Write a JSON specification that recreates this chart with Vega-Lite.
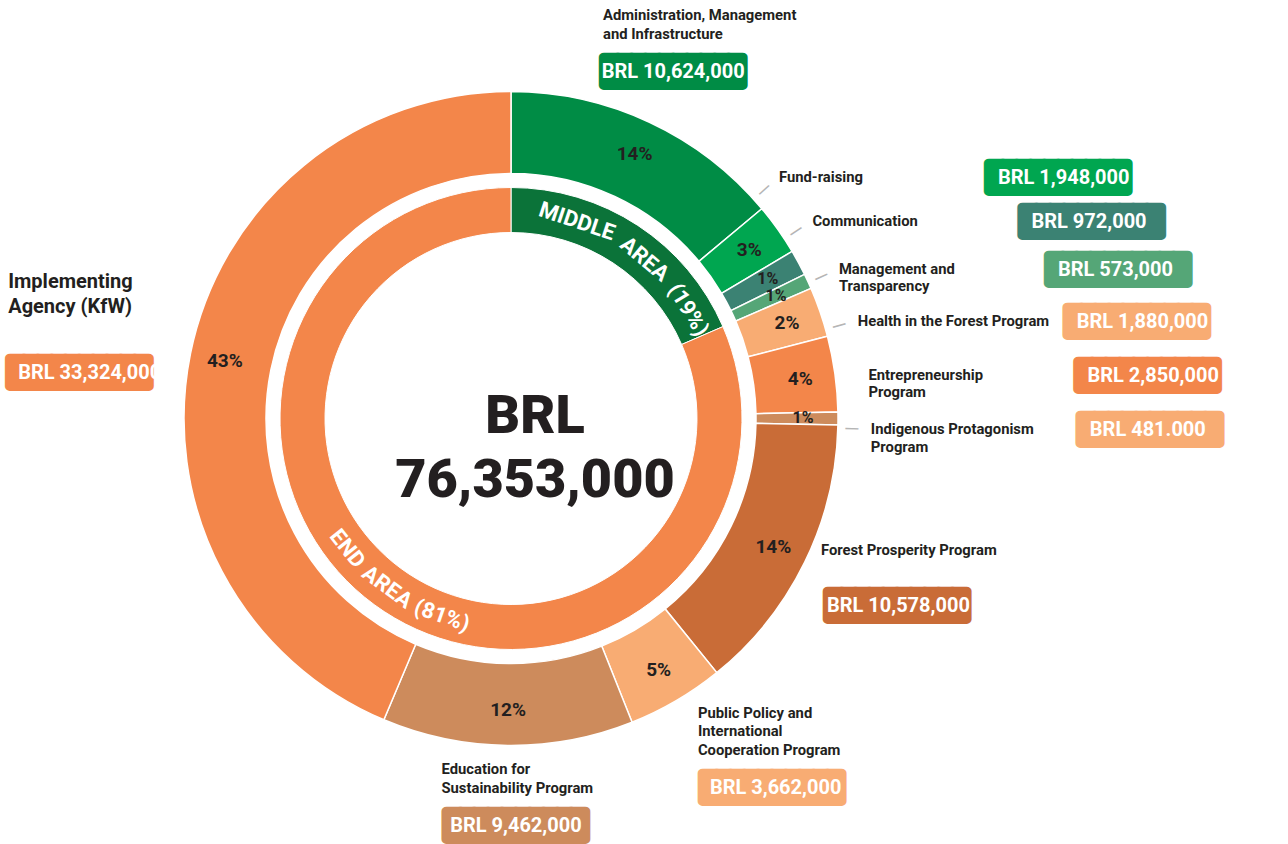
{
  "$schema": "https://vega.github.io/schema/vega-lite/v6.json",
  "width": 1022,
  "height": 837,
  "autosize": {"type": "none"},
  "padding": {"left": 0, "top": 0, "right": 266, "bottom": 7},
  "background": "#ffffff",
  "config": {"view": {"stroke": null}, "font": "Roboto"},
  "datasets": {
    "programs": [
      {"i": 1, "name": "Administration, Management and Infrastructure", "label": "Administration, Management\nand Infrastructure", "value": 10624000, "pct": "14%", "brl": "BRL 10,624,000"},
      {"i": 2, "name": "Fund-raising", "label": "Fund-raising", "value": 1948000, "pct": "3%", "brl": "BRL 1,948,000"},
      {"i": 3, "name": "Communication", "label": "Communication", "value": 972000, "pct": "1%", "brl": "BRL 972,000"},
      {"i": 4, "name": "Management and Transparency", "label": "Management and\nTransparency", "value": 573000, "pct": "1%", "brl": "BRL 573,000"},
      {"i": 5, "name": "Health in the Forest Program", "label": "Health in the Forest Program", "value": 1880000, "pct": "2%", "brl": "BRL 1,880,000"},
      {"i": 6, "name": "Entrepreneurship Program", "label": "Entrepreneurship\nProgram", "value": 2850000, "pct": "4%", "brl": "BRL 2,850,000"},
      {"i": 7, "name": "Indigenous Protagonism Program", "label": "Indigenous Protagonism\nProgram", "value": 481000, "pct": "1%", "brl": "BRL 481.000"},
      {"i": 8, "name": "Forest Prosperity Program", "label": "Forest Prosperity Program", "value": 10578000, "pct": "14%", "brl": "BRL 10,578,000"},
      {"i": 9, "name": "Public Policy and International Cooperation Program", "label": "Public Policy and\nInternational\nCooperation Program", "value": 3662000, "pct": "5%", "brl": "BRL  3,662,000"},
      {"i": 10, "name": "Education for Sustainability Program", "label": "Education for\nSustainability Program", "value": 9462000, "pct": "12%", "brl": "BRL 9,462,000"},
      {"i": 11, "name": "Implementing Agency (KfW)", "label": "Implementing\nAgency (KfW)", "value": 33324000, "pct": "43%", "brl": "BRL 33,324,000"}
    ],
    "areas": [
      {"j": 1, "area": "Middle Area", "value": 14117000},
      {"j": 2, "area": "End Area", "value": 62236000}
    ],
    "middleWords": [
      {"k": 0, "word": "MIDDLE"},
      {"k": 1, "word": "AREA"},
      {"k": 2, "word": "(19%)"}
    ],
    "endWords": [
      {"k": 0, "word": "END"},
      {"k": 1, "word": "AREA"},
      {"k": 2, "word": "(81%)"}
    ],
    "total": [{"label": "BRL\n76,353,000"}]
  },
  "layer": [
    {
      "data": {"name": "programs"},
      "mark": {"type": "arc", "outerRadius": 327, "innerRadius": 245, "stroke": "#ffffff", "strokeWidth": 1.5},
      "encoding": {
        "theta": {"field": "value", "type": "quantitative", "stack": true},
        "order": {"field": "i", "type": "quantitative"},
        "color": {"field": "i", "type": "nominal", "legend": null,
          "scale": {"domain": [1,2,3,4,5,6,7,8,9,10,11],
            "range": ["#008C45","#00A650","#3B8273","#55A677","#F8AC73","#F3864A","#CD8B5C","#C96C37","#F8AC73","#CD8B5C","#F3864A"]}}
      }
    },
    {
      "data": {"name": "areas"},
      "mark": {"type": "arc", "outerRadius": 231, "innerRadius": 186, "stroke": "#ffffff", "strokeWidth": 1},
      "encoding": {
        "theta": {"field": "value", "type": "quantitative", "stack": true},
        "order": {"field": "j", "type": "quantitative"},
        "color": {"field": "area", "type": "nominal", "legend": null,
          "scale": {"domain": ["Middle Area", "End Area"], "range": ["#0B7339", "#F3864A"]}}
      }
    },
    {
      "data": {"name": "programs"},
      "mark": {"type": "text", "radius": 292, "font": "Roboto", "fontWeight": "bold", "fill": "#231F20", "align": "center", "baseline": "middle"},
      "encoding": {
        "theta": {"field": "value", "type": "quantitative", "stack": true},
        "order": {"field": "i", "type": "quantitative"},
        "size": {"condition": {"test": "datum.value < 1000000", "value": 16}, "value": 19},
        "text": {"field": "pct", "type": "nominal"}
      }
    },
    {
      "data": {"name": "middleWords"},
      "mark": {"type": "text", "radius": 208, "font": "Roboto", "fontSize": 22, "fontWeight": "bold", "fill": "#ffffff", "align": "center", "baseline": "middle"},
      "encoding": {
        "theta": {"field": "k", "type": "quantitative", "stack": null, "scale": {"domain": [0, 1, 2], "range": [0.3229, 0.6981, 1.0210]}},
        "angle": {"field": "k", "type": "quantitative", "scale": {"domain": [0, 1, 2], "range": [18.5, 40, 58.5]}},
        "text": {"field": "word", "type": "nominal"}
      }
    },
    {
      "data": {"name": "endWords"},
      "mark": {"type": "text", "radius": 209, "font": "Roboto", "fontSize": 22, "fontWeight": "bold", "fill": "#ffffff", "align": "center", "baseline": "middle"},
      "encoding": {
        "theta": {"field": "k", "type": "quantitative", "stack": null, "scale": {"domain": [0, 1, 2], "range": [4.0404, 3.7751, 3.4784]}},
        "angle": {"field": "k", "type": "quantitative", "scale": {"domain": [0, 1, 2], "range": [51.5, 36.3, 19.3]}},
        "text": {"field": "word", "type": "nominal"}
      }
    },
    {
      "data": {"name": "total"},
      "mark": {"type": "text", "font": "Roboto", "fontSize": 54, "fontWeight": 900, "fill": "#231F20", "align": "center", "baseline": "alphabetic", "lineBreak": "\n", "lineHeight": 64, "dx": 24, "dy": 14},
      "encoding": {"text": {"field": "label", "type": "nominal"}}
    },
    {
      "data": {"name": "programs"},
      "transform": [{"filter": {"field": "i", "oneOf": [2, 3, 4, 5, 7]}}],
      "mark": {"type": "text", "radius": 341, "font": "Roboto", "fontSize": 20, "fill": "#b5b5b5", "align": "center", "baseline": "middle"},
      "encoding": {
        "theta": {"field": "i", "type": "quantitative", "stack": null, "scale": {"domain": [2, 7], "range": [0.8395, 1.6040]}},
        "angle": {"field": "i", "type": "quantitative", "scale": {"domain": [2, 7], "range": [-41.9, 1.9]}},
        "text": {"value": "—"}
      }
    },
    {
      "data": {"name": "programs"},
      "transform": [{"filter": {"field": "i", "oneOf": [2, 3, 4, 5, 6, 7]}}],
      "mark": {"type": "text", "radius": 360, "font": "Roboto", "fontSize": 14.8, "fontWeight": "bold", "fill": "#231F20", "align": "left", "baseline": "middle", "lineBreak": "\n", "lineHeight": 17.5},
      "encoding": {
        "theta": {"field": "i", "type": "quantitative", "stack": null, "scale": {"domain": [2, 7], "range": [0.8395, 1.6040]}},
        "text": {"field": "label", "type": "nominal"}
      }
    },
    {
      "data": {"name": "programs"},
      "transform": [{"filter": {"field": "i", "oneOf": [2, 3, 4, 5, 6, 7]}}],
      "mark": {"type": "text", "radius": 360, "dx": 210, "font": "DejaVu Sans Mono", "fontSize": 23, "align": "left", "baseline": "middle", "strokeWidth": 10, "strokeJoin": "round"},
      "encoding": {
        "theta": {"field": "i", "type": "quantitative", "stack": null, "scale": {"domain": [2, 7], "range": [0.8395, 1.6040]}},
        "text": {"value": "██████████"},
        "fill": {"field": "i", "type": "nominal", "legend": null,
          "scale": {"domain": [1,2,3,4,5,6,7,8,9,10,11],
            "range": ["#008C45","#00A650","#3B8273","#55A677","#F8AC73","#F3864A","#F8AC73","#C96C37","#F8AC73","#CD8B5C","#F3864A"]}},
        "stroke": {"field": "i", "type": "nominal", "legend": null,
          "scale": {"domain": [1,2,3,4,5,6,7,8,9,10,11],
            "range": ["#008C45","#00A650","#3B8273","#55A677","#F8AC73","#F3864A","#F8AC73","#C96C37","#F8AC73","#CD8B5C","#F3864A"]}}
      }
    },
    {
      "data": {"name": "programs"},
      "transform": [{"filter": {"field": "i", "oneOf": [2, 3, 4, 5, 6, 7]}}],
      "mark": {"type": "text", "radius": 360, "dx": 219, "font": "Roboto", "fontSize": 20, "fontWeight": "bold", "fill": "#ffffff", "align": "left", "baseline": "middle"},
      "encoding": {
        "theta": {"field": "i", "type": "quantitative", "stack": null, "scale": {"domain": [2, 7], "range": [0.8395, 1.6040]}},
        "text": {"field": "brl", "type": "nominal"}
      }
    },
    {
      "data": {"name": "programs"},
      "mark": {"type": "text", "radius": 345, "dy": -19, "font": "Roboto", "fontSize": 14.8, "fontWeight": "bold", "fill": "#231F20", "align": "left", "baseline": "middle"},
      "encoding": {
        "theta": {"field": "value", "type": "quantitative", "stack": true},
        "order": {"field": "i", "type": "quantitative"},
        "text": {"condition": {"test": "datum.i == 8", "field": "label", "type": "nominal"}, "value": ""}
      }
    },
    {
      "data": {"name": "programs"},
      "mark": {"type": "text", "radius": 342, "dx": 14, "font": "Roboto", "fontSize": 14.8, "fontWeight": "bold", "fill": "#231F20", "align": "left", "baseline": "middle", "lineBreak": "\n", "lineHeight": 18.5},
      "encoding": {
        "theta": {"field": "value", "type": "quantitative", "stack": true},
        "order": {"field": "i", "type": "quantitative"},
        "text": {"condition": {"test": "datum.i == 9", "field": "label", "type": "nominal"}, "value": ""}
      }
    },
    {
      "data": {"name": "programs"},
      "mark": {"type": "text", "radius": 345, "dx": 7, "dy": 36, "font": "DejaVu Sans Mono", "fontSize": 23, "align": "left", "baseline": "middle", "strokeWidth": 10, "strokeJoin": "round"},
      "encoding": {
        "theta": {"field": "value", "type": "quantitative", "stack": true},
        "order": {"field": "i", "type": "quantitative"},
        "text": {"condition": {"test": "datum.i == 8", "value": "██████████"}, "value": ""},
        "fill": {"field": "i", "type": "nominal", "legend": null,
          "scale": {"domain": [1,2,3,4,5,6,7,8,9,10,11],
            "range": ["#008C45","#00A650","#3B8273","#55A677","#F8AC73","#F3864A","#F8AC73","#C96C37","#F8AC73","#CD8B5C","#F3864A"]}},
        "stroke": {"field": "i", "type": "nominal", "legend": null,
          "scale": {"domain": [1,2,3,4,5,6,7,8,9,10,11],
            "range": ["#008C45","#00A650","#3B8273","#55A677","#F8AC73","#F3864A","#F8AC73","#C96C37","#F8AC73","#CD8B5C","#F3864A"]}}
      }
    },
    {
      "data": {"name": "programs"},
      "mark": {"type": "text", "radius": 345, "dx": 6, "dy": 36, "font": "Roboto", "fontSize": 20, "fontWeight": "bold", "fill": "#ffffff", "align": "left", "baseline": "middle"},
      "encoding": {
        "theta": {"field": "value", "type": "quantitative", "stack": true},
        "order": {"field": "i", "type": "quantitative"},
        "text": {"condition": {"test": "datum.i == 8", "field": "brl", "type": "nominal"}, "value": ""}
      }
    },
    {
      "data": {"name": "programs"},
      "mark": {"type": "text", "radius": 342, "dx": 19, "dy": 74, "font": "DejaVu Sans Mono", "fontSize": 23, "align": "left", "baseline": "middle", "strokeWidth": 10, "strokeJoin": "round"},
      "encoding": {
        "theta": {"field": "value", "type": "quantitative", "stack": true},
        "order": {"field": "i", "type": "quantitative"},
        "text": {"condition": {"test": "datum.i == 9", "value": "██████████"}, "value": ""},
        "fill": {"field": "i", "type": "nominal", "legend": null,
          "scale": {"domain": [1,2,3,4,5,6,7,8,9,10,11],
            "range": ["#008C45","#00A650","#3B8273","#55A677","#F8AC73","#F3864A","#F8AC73","#C96C37","#F8AC73","#CD8B5C","#F3864A"]}},
        "stroke": {"field": "i", "type": "nominal", "legend": null,
          "scale": {"domain": [1,2,3,4,5,6,7,8,9,10,11],
            "range": ["#008C45","#00A650","#3B8273","#55A677","#F8AC73","#F3864A","#F8AC73","#C96C37","#F8AC73","#CD8B5C","#F3864A"]}}
      }
    },
    {
      "data": {"name": "programs"},
      "mark": {"type": "text", "radius": 342, "dx": 26, "dy": 74, "font": "Roboto", "fontSize": 20, "fontWeight": "bold", "fill": "#ffffff", "align": "left", "baseline": "middle"},
      "encoding": {
        "theta": {"field": "value", "type": "quantitative", "stack": true},
        "order": {"field": "i", "type": "quantitative"},
        "text": {"condition": {"test": "datum.i == 9", "field": "brl", "type": "nominal"}, "value": ""}
      }
    },
    {
      "data": {"name": "programs"},
      "mark": {"type": "text", "radius": 444, "dx": -96, "font": "Roboto", "fontSize": 14.8, "fontWeight": "bold", "fill": "#231F20", "align": "left", "baseline": "middle", "lineBreak": "\n", "lineHeight": 19},
      "encoding": {
        "theta": {"field": "value", "type": "quantitative", "stack": true},
        "order": {"field": "i", "type": "quantitative"},
        "text": {"condition": {"test": "datum.i == 1", "field": "label", "type": "nominal"}, "value": ""}
      }
    },
    {
      "data": {"name": "programs"},
      "mark": {"type": "text", "radius": 352, "dx": -66, "font": "Roboto", "fontSize": 14.8, "fontWeight": "bold", "fill": "#231F20", "align": "left", "baseline": "middle", "lineBreak": "\n", "lineHeight": 19},
      "encoding": {
        "theta": {"field": "value", "type": "quantitative", "stack": true},
        "order": {"field": "i", "type": "quantitative"},
        "text": {"condition": {"test": "datum.i == 10", "field": "label", "type": "nominal"}, "value": ""}
      }
    },
    {
      "data": {"name": "programs"},
      "mark": {"type": "text", "radius": 383, "font": "DejaVu Sans Mono", "fontSize": 23, "align": "center", "baseline": "middle", "strokeWidth": 10, "strokeJoin": "round"},
      "encoding": {
        "theta": {"field": "value", "type": "quantitative", "stack": true},
        "order": {"field": "i", "type": "quantitative"},
        "text": {"condition": {"test": "datum.i == 1", "value": "██████████"}, "value": ""},
        "fill": {"field": "i", "type": "nominal", "legend": null,
          "scale": {"domain": [1,2,3,4,5,6,7,8,9,10,11],
            "range": ["#008C45","#00A650","#3B8273","#55A677","#F8AC73","#F3864A","#F8AC73","#C96C37","#F8AC73","#CD8B5C","#F3864A"]}},
        "stroke": {"field": "i", "type": "nominal", "legend": null,
          "scale": {"domain": [1,2,3,4,5,6,7,8,9,10,11],
            "range": ["#008C45","#00A650","#3B8273","#55A677","#F8AC73","#F3864A","#F8AC73","#C96C37","#F8AC73","#CD8B5C","#F3864A"]}}
      }
    },
    {
      "data": {"name": "programs"},
      "mark": {"type": "text", "radius": 383, "font": "Roboto", "fontSize": 20, "fontWeight": "bold", "fill": "#ffffff", "align": "center", "baseline": "middle"},
      "encoding": {
        "theta": {"field": "value", "type": "quantitative", "stack": true},
        "order": {"field": "i", "type": "quantitative"},
        "text": {"condition": {"test": "datum.i == 1", "field": "brl", "type": "nominal"}, "value": ""}
      }
    },
    {
      "data": {"name": "programs"},
      "mark": {"type": "text", "radius": 408, "dx": 9, "font": "DejaVu Sans Mono", "fontSize": 23, "align": "center", "baseline": "middle", "strokeWidth": 10, "strokeJoin": "round"},
      "encoding": {
        "theta": {"field": "value", "type": "quantitative", "stack": true},
        "order": {"field": "i", "type": "quantitative"},
        "text": {"condition": {"test": "datum.i == 10", "value": "██████████"}, "value": ""},
        "fill": {"field": "i", "type": "nominal", "legend": null,
          "scale": {"domain": [1,2,3,4,5,6,7,8,9,10,11],
            "range": ["#008C45","#00A650","#3B8273","#55A677","#F8AC73","#F3864A","#F8AC73","#C96C37","#F8AC73","#CD8B5C","#F3864A"]}},
        "stroke": {"field": "i", "type": "nominal", "legend": null,
          "scale": {"domain": [1,2,3,4,5,6,7,8,9,10,11],
            "range": ["#008C45","#00A650","#3B8273","#55A677","#F8AC73","#F3864A","#F8AC73","#C96C37","#F8AC73","#CD8B5C","#F3864A"]}}
      }
    },
    {
      "data": {"name": "programs"},
      "mark": {"type": "text", "radius": 408, "dx": 9, "font": "Roboto", "fontSize": 20, "fontWeight": "bold", "fill": "#ffffff", "align": "center", "baseline": "middle"},
      "encoding": {
        "theta": {"field": "value", "type": "quantitative", "stack": true},
        "order": {"field": "i", "type": "quantitative"},
        "text": {"condition": {"test": "datum.i == 10", "field": "brl", "type": "nominal"}, "value": ""}
      }
    },
    {
      "data": {"name": "programs"},
      "mark": {"type": "text", "radius": 513, "dy": -35, "font": "Roboto", "fontSize": 20, "fontWeight": "bold", "fill": "#231F20", "align": "left", "baseline": "middle", "lineBreak": "\n", "lineHeight": 25},
      "encoding": {
        "theta": {"field": "value", "type": "quantitative", "stack": true},
        "order": {"field": "i", "type": "quantitative"},
        "text": {"condition": {"test": "datum.i == 11", "field": "label", "type": "nominal"}, "value": ""}
      }
    },
    {
      "data": {"name": "programs"},
      "mark": {"type": "text", "radius": 513, "dx": 2, "dy": 56, "font": "DejaVu Sans Mono", "fontSize": 23, "align": "left", "baseline": "middle", "strokeWidth": 10, "strokeJoin": "round"},
      "encoding": {
        "theta": {"field": "value", "type": "quantitative", "stack": true},
        "order": {"field": "i", "type": "quantitative"},
        "text": {"condition": {"test": "datum.i == 11", "value": "██████████"}, "value": ""},
        "fill": {"field": "i", "type": "nominal", "legend": null,
          "scale": {"domain": [1,2,3,4,5,6,7,8,9,10,11],
            "range": ["#008C45","#00A650","#3B8273","#55A677","#F8AC73","#F3864A","#F8AC73","#C96C37","#F8AC73","#CD8B5C","#F3864A"]}},
        "stroke": {"field": "i", "type": "nominal", "legend": null,
          "scale": {"domain": [1,2,3,4,5,6,7,8,9,10,11],
            "range": ["#008C45","#00A650","#3B8273","#55A677","#F8AC73","#F3864A","#F8AC73","#C96C37","#F8AC73","#CD8B5C","#F3864A"]}}
      }
    },
    {
      "data": {"name": "programs"},
      "mark": {"type": "text", "radius": 513, "dx": 10, "dy": 56, "font": "Roboto", "fontSize": 20, "fontWeight": "bold", "fill": "#ffffff", "align": "left", "baseline": "middle"},
      "encoding": {
        "theta": {"field": "value", "type": "quantitative", "stack": true},
        "order": {"field": "i", "type": "quantitative"},
        "text": {"condition": {"test": "datum.i == 11", "field": "brl", "type": "nominal"}, "value": ""}
      }
    }
  ],
  "resolve": {"scale": {"theta": "independent", "color": "independent", "fill": "independent", "stroke": "independent", "angle": "independent", "size": "independent"}}
}
